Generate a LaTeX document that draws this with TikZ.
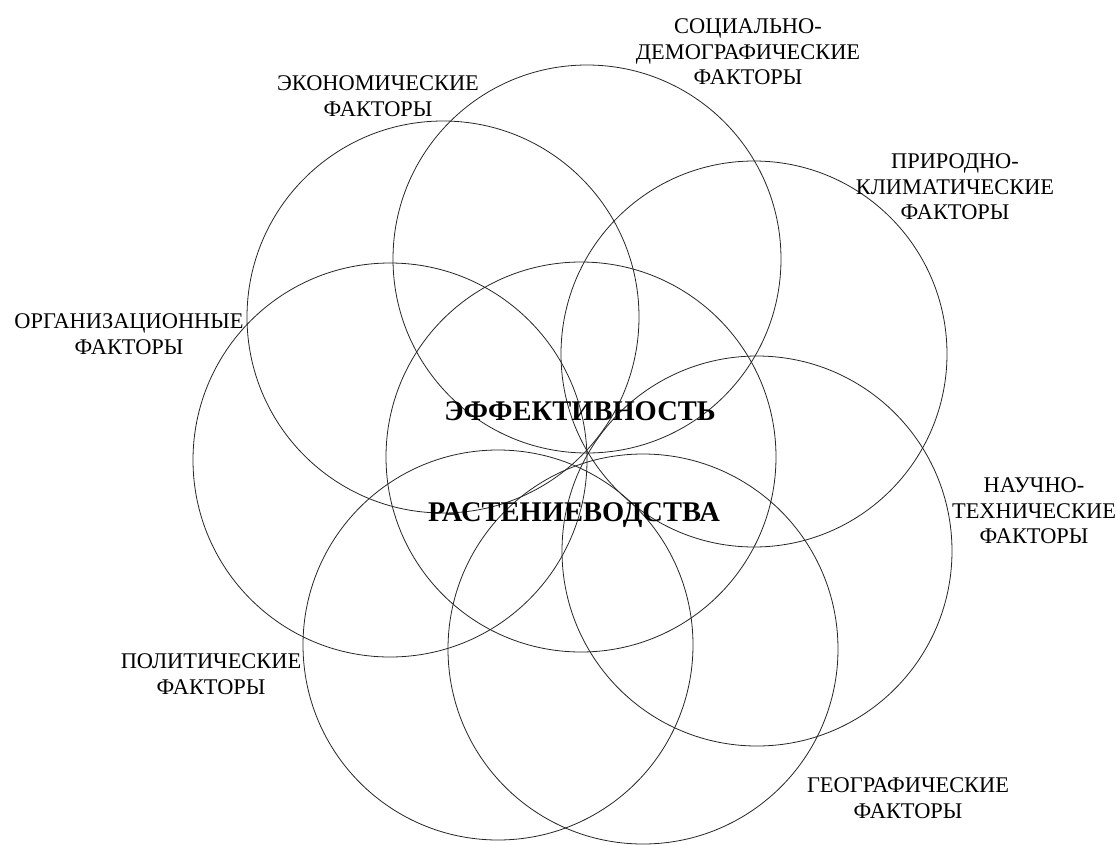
\documentclass[tikz,border=0pt]{standalone}
\usepackage{fontspec}
\setmainfont{Liberation Serif}
\begin{document}
\begin{tikzpicture}[x=1pt,y=-1pt,
  ring/.style={draw=black!85, line width=0.8pt},
  lbl/.style={align=center, font=\fontsize{22.4}{25.5}\selectfont, inner sep=0pt},
  ttl/.style={font=\fontsize{28.5}{32}\selectfont\bfseries, inner sep=0pt}]
\useasboundingbox (0,0) rectangle (1117,844);
% circles
\draw[ring] (581,457) circle[radius=195pt];   % centre
\draw[ring] (390,460) circle[radius=197pt];   % organisational
\draw[ring] (443,317) circle[radius=196pt];   % economic
\draw[ring] (587,259) circle[radius=194pt];   % socio-demographic
\draw[ring] (754,354) circle[radius=193pt];   % natural-climatic
\draw[ring] (757,551) circle[radius=195pt];   % scientific-technical
\draw[ring] (643,649) circle[radius=195pt];   % geographic
\draw[ring] (498,645) circle[radius=195pt];   % political
% labels
\node[lbl] (econ) at (378,96) {ЭКОНОМИЧЕСКИЕ\\ФАКТОРЫ};
\node[lbl] (soc) at (748,52) {СОЦИАЛЬНО-\\ДЕМОГРАФИЧЕСКИЕ\\ФАКТОРЫ};
\node[lbl] (nat) at (955,187) {ПРИРОДНО-\\КЛИМАТИЧЕСКИЕ\\ФАКТОРЫ};
\node[lbl] (org) at (129,334) {ОРГАНИЗАЦИОННЫЕ\\ФАКТОРЫ};
\node[lbl] (sci) at (1034,511) {НАУЧНО-\\ТЕХНИЧЕСКИЕ\\ФАКТОРЫ};
\node[lbl] (pol) at (211,674) {ПОЛИТИЧЕСКИЕ\\ФАКТОРЫ};
\node[lbl] (geo) at (908,798) {ГЕОГРАФИЧЕСКИЕ\\ФАКТОРЫ};
\node[ttl] (eff) at (580,411) {ЭФФЕКТИВНОСТЬ};
\node[ttl] (rast) at (574,515) {РАСТЕНИЕВОДСТВА};
\end{tikzpicture}
\end{document}
